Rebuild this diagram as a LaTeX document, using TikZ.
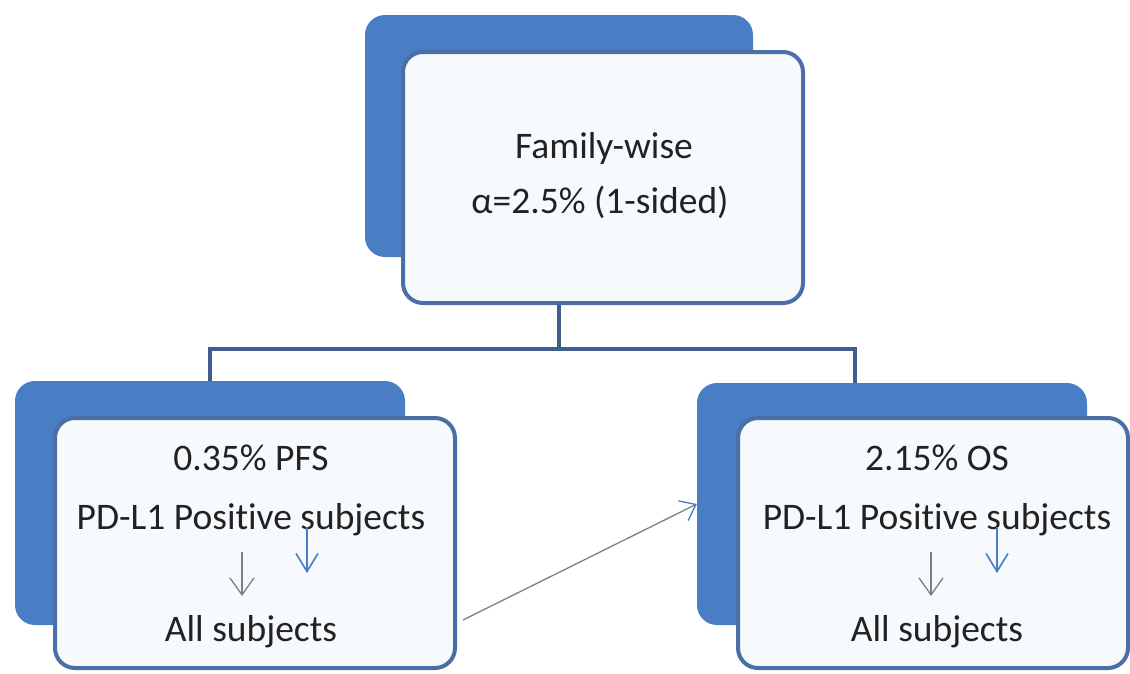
\documentclass[tikz,border=0pt]{standalone}
\usepackage{fontspec}
\setmainfont{Carlito}[Ligatures=NoCommon]
\usetikzlibrary{arrows.meta}
\definecolor{backblue}{HTML}{4A7EC4}
\definecolor{frontline}{HTML}{4C6EA6}
\definecolor{frontfill}{HTML}{F7FAFD}
\definecolor{connblue}{HTML}{3F5E8E}
\definecolor{txt}{HTML}{222222}
\definecolor{arrgray}{HTML}{7A8088}
\definecolor{arrblue}{HTML}{4A7CC4}
\tikzset{
  backbox/.style={draw=none, fill=backblue, rounded corners=20pt, inner sep=0pt},
  frontbox/.style={draw=frontline, line width=4pt, fill=frontfill, rounded corners=20pt, inner sep=0pt},
  conn/.style={draw=connblue, line width=4pt},
  lbl/.style={text=txt, font=\fontsize{37.5}{45}\selectfont, inner sep=0pt, anchor=base},
  garrow/.style={draw=arrgray, line width=1.3pt, -{Straight Barb[length=17pt,width=24pt,line width=1.3pt]}},
  darrow/.style={draw=arrgray, line width=1.3pt, -{Straight Barb[length=14pt,width=22pt,line width=1.3pt,color=arrblue]}},
  barrow/.style={draw=arrblue, line width=1.6pt, -{Straight Barb[length=18pt,width=22pt,line width=1.6pt]}},
}
\begin{document}
\begin{tikzpicture}[x=1pt,y=-1pt]
\useasboundingbox (0,0) rectangle (1130,673);
% boxes
\node[backbox, minimum width=388pt, minimum height=242pt] (topback) at (559,136) {};
\node[frontbox, minimum width=400pt, minimum height=251pt] (topfront) at (603,177.5) {};
\node[backbox, minimum width=390pt, minimum height=244pt] (leftback) at (210,503) {};
\node[frontbox, minimum width=400pt, minimum height=250pt] (leftfront) at (255,543) {};
\node[backbox, minimum width=390pt, minimum height=242pt] (rightback) at (892,504) {};
\node[frontbox, minimum width=390pt, minimum height=250pt] (rightfront) at (933,543) {};
% texts
\node[lbl] (t1) at (604,158) {Family-wise};
\node[lbl] (t2) at (600,213) {α=2.5\% (1-sided)};
\node[lbl] (l1) at (251,470) {0.35\% PFS};
\node[lbl] (l2) at (251,529) {PD-L1 Positive subjects};
\node[lbl] (l3) at (251,641) {All subjects};
\node[lbl] (r1) at (937,470) {2.15\% OS};
\node[lbl] (r2) at (937,529) {PD-L1 Positive subjects};
\node[lbl] (r3) at (937,641) {All subjects};
% connectors
\coordinate (j) at (559,349);
\coordinate (rj) at (855,349);
\draw[conn] (topback |- topfront.south) -- (j);
\draw[conn] (leftback.north) |- (j) -- (rj) -- (rj |- rightback.north);
% diagonal arrow
\coordinate (ds) at (463,620);
\draw[darrow] (ds) -- (rightback.west);
% inner arrows
\coordinate (lg1) at (242,552); \coordinate (lg2) at (242,596);
\coordinate (lb1) at (307,527); \coordinate (lb2) at (307,573);
\coordinate (rg1) at (931,552); \coordinate (rg2) at (931,596);
\coordinate (rb1) at (997,527); \coordinate (rb2) at (997,573);
\draw[garrow] (lg1) -- (lg2);
\draw[barrow] (lb1) -- (lb2);
\draw[garrow] (rg1) -- (rg2);
\draw[barrow] (rb1) -- (rb2);
\end{tikzpicture}
\end{document}
